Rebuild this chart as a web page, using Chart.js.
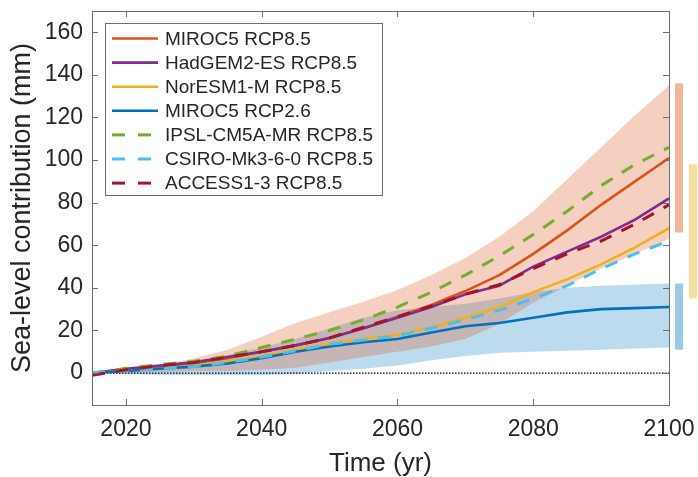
<!DOCTYPE html>
<html>
<head>
<meta charset="utf-8">
<script src="https://cdn.jsdelivr.net/npm/chart.js@4.4.1/dist/chart.umd.min.js"></script>
<style>
  html, body { margin: 0; padding: 0; background: #fff; }
</style>
</head>
<body>
<canvas id="chart" width="698" height="477"></canvas>
<script>
// years sampled every 5 yr
const years = [2015, 2020, 2025, 2030, 2035, 2040, 2045, 2050, 2055, 2060, 2065, 2070, 2075, 2080, 2085, 2090, 2095, 2100];

// sea-level contribution (mm)
const miroc85  = [0, 1.5, 3, 4.5, 7, 10, 13, 16.5, 21, 26.5, 32, 38.5, 46, 56, 67, 79, 90, 101];
const hadgem85 = [0, 2, 3.5, 5, 7.5, 10, 13, 16.5, 21, 26, 31, 37, 41, 50, 57, 64, 72, 82];
const noresm85 = [0, 1, 2, 3.5, 5.5, 8, 11, 14, 16, 18, 21.5, 26, 31, 38, 44, 51, 59, 68];
const miroc26  = [0, 1, 2, 3, 4.5, 7, 10, 12.5, 14.5, 16, 19, 22, 23.5, 26, 28.5, 30, 30.5, 31];
const ipsl85   = [0, 2.2, 4, 5.5, 8, 12, 16, 20, 25, 31, 38, 46, 55, 65, 76, 88, 98, 106];
const csiro85  = [0, 1, 2, 3, 5, 7.5, 10.5, 13.5, 15.5, 17.5, 21, 25, 29.5, 35, 41, 49, 56, 62];
const access85 = [-1, 1.5, 3.5, 5, 7.5, 10, 13, 16.5, 21.5, 26.5, 31.5, 37, 41.5, 49, 56, 62, 70, 79];

// spread of the MIROC5 runs
const rcp85High = [0, 1.5, 3.5, 7, 11, 17, 23.5, 28.5, 33.5, 39, 46, 54, 64, 76, 91, 106, 121, 135];
const rcp85Low  = [0, 0, 0.5, 1, 1, 1.5, 2.5, 5, 7.5, 10, 12.5, 16, 23, 33, 41, 49, 56, 63];
const rcp26High = [0, 2, 3.5, 5.5, 8.5, 12, 16, 21, 26, 29.5, 31, 32.5, 35, 38, 40, 41, 41.5, 42];
const rcp26Low  = [0, -0.5, -1, -1, -1, -1, -0.5, 1, 2, 3.5, 6, 8, 9.5, 10, 10.5, 11, 11.5, 12];

// 2100 ranges shown beside the axes
const rangeLow  = [66, 35, 11];
const rangeHigh = [136, 98, 42];

const zeroYears = [2015, 2100];
const zeroValues = [0, 0];

const xTicks = [2020, 2040, 2060, 2080, 2100];
const yTicks = [0, 20, 40, 60, 80, 100, 120, 140, 160];

const FONT = '"Liberation Sans", Arial, Helvetica, sans-serif';
const TEXT = '#262626';
const AXIS = '#6e6e6e';

function pts(xs, values) {
    return xs.map((x, i) => ({ x: x, y: values[i] }));
}

const lines = [
    { label: 'MIROC5 RCP8.5', values: miroc85, color: '#D95319', dash: [] },
    { label: 'HadGEM2-ES RCP8.5', values: hadgem85, color: '#7E2F8E', dash: [] },
    { label: 'NorESM1-M RCP8.5', values: noresm85, color: '#EDB120', dash: [] },
    { label: 'MIROC5 RCP2.6', values: miroc26, color: '#0072BD', dash: [] },
    { label: 'IPSL-CM5A-MR RCP8.5', values: ipsl85, color: '#77AC30', dash: [13, 11] },
    { label: 'CSIRO-Mk3-6-0 RCP8.5', values: csiro85, color: '#4DBEEE', dash: [13, 11] },
    { label: 'ACCESS1-3 RCP8.5', values: access85, color: '#A2142F', dash: [13, 11] }
];

const datasets = lines.map((s, i) => ({
    label: s.label,
    data: pts(years, s.values),
    borderColor: s.color,
    borderWidth: s.dash.length ? 3 : 2.6,
    borderDash: s.dash,
    fill: false,
    inLegend: true,
    order: 7 - i
}));

datasets.push(
    { label: 'zero', data: pts(zeroYears, zeroValues), borderColor: '#000', borderWidth: 1.2, borderDash: [1.5, 1.5], fill: false, order: 10 },
    { label: 'rcp85 high', data: pts(years, rcp85High), borderWidth: 0, borderColor: 'transparent', backgroundColor: 'rgba(217,83,25,0.27)', fill: '+1', order: 19 },
    { label: 'rcp85 low', data: pts(years, rcp85Low), borderWidth: 0, borderColor: 'transparent', fill: false, order: 19 },
    { label: 'rcp26 high', data: pts(years, rcp26High), borderWidth: 0, borderColor: 'transparent', backgroundColor: 'rgba(0,114,189,0.26)', fill: '+1', order: 20 },
    { label: 'rcp26 low', data: pts(years, rcp26Low), borderWidth: 0, borderColor: 'transparent', fill: false, order: 20 }
);

// box, inward ticks, legend and the 2100 range bars
const decorations = {
    id: 'decorations',
    afterDatasetsDraw(chart) {
        const { ctx, chartArea: a, scales } = chart;
        ctx.save();
        ctx.strokeStyle = AXIS;
        ctx.lineWidth = 1;
        ctx.strokeRect(Math.round(a.left) + 0.5, Math.round(a.top) + 0.5, Math.round(a.width), Math.round(a.height));
        ctx.beginPath();
        xTicks.forEach(v => {
            const px = Math.round(scales.x.getPixelForValue(v)) + 0.5;
            ctx.moveTo(px, a.bottom); ctx.lineTo(px, a.bottom - 6);
            ctx.moveTo(px, a.top); ctx.lineTo(px, a.top + 6);
        });
        yTicks.forEach(v => {
            const py = Math.round(scales.y.getPixelForValue(v)) + 0.5;
            ctx.moveTo(a.left, py); ctx.lineTo(a.left + 6, py);
            ctx.moveTo(a.right, py); ctx.lineTo(a.right - 6, py);
        });
        ctx.stroke();

        // legend
        const lx = a.left + 13, ly = a.top + 12, lw = 277, lh = 172;
        ctx.fillStyle = '#fff';
        ctx.fillRect(lx, ly, lw, lh);
        ctx.strokeStyle = AXIS;
        ctx.strokeRect(Math.round(lx) + 0.5, Math.round(ly) + 0.5, lw, lh);
        ctx.font = '19px ' + FONT;
        ctx.textBaseline = 'middle';
        chart.data.datasets.filter(d => d.inLegend).forEach((d, i) => {
            const cy = ly + 15.5 + i * 24.1;
            ctx.beginPath();
            ctx.strokeStyle = d.borderColor;
            ctx.lineWidth = d.borderWidth;
            ctx.setLineDash(d.borderDash.length ? [13, 13] : []);
            ctx.moveTo(lx + 7, cy);
            ctx.lineTo(lx + 53, cy);
            ctx.stroke();
            ctx.setLineDash([]);
            ctx.fillStyle = TEXT;
            ctx.fillText(d.label, lx + 60, cy + 1);
        });
        ctx.restore();
    },
    afterDraw(chart) {
        const { ctx, chartArea: a, scales } = chart;
        const barColors = ['rgba(217,83,25,0.42)', 'rgba(237,177,32,0.42)', 'rgba(0,114,189,0.38)'];
        const barOffset = [6, 20, 6];
        ctx.save();
        rangeLow.forEach((lo, i) => {
            const top = scales.y.getPixelForValue(rangeHigh[i]);
            const bottom = scales.y.getPixelForValue(lo);
            ctx.fillStyle = barColors[i];
            ctx.fillRect(a.right + barOffset[i], top, 8, bottom - top);
        });
        ctx.restore();
    }
};

new Chart(document.getElementById('chart'), {
    type: 'line',
    data: { datasets: datasets },
    plugins: [decorations],
    options: {
        responsive: false,
        animation: false,
        devicePixelRatio: 1,
        layout: { padding: { top: 11, right: 29, left: 0, bottom: 0 } },
        plugins: {
            legend: { display: false },
            tooltip: { enabled: false }
        },
        elements: {
            point: { radius: 0 },
            line: { tension: 0 }
        },
        scales: {
            x: {
                type: 'linear',
                min: 2015,
                max: 2100,
                afterBuildTicks: s => { s.ticks = xTicks.map(v => ({ value: v })); },
                afterFit: s => { s.height = 72; s.paddingLeft = 0; s.paddingRight = 0; },
                grid: { display: false, drawTicks: false },
                border: { display: false },
                ticks: { font: { family: FONT, size: 23 }, color: TEXT, padding: 11, maxRotation: 0, autoSkip: false, callback: v => String(v) },
                title: { display: true, text: 'Time (yr)', font: { family: FONT, size: 26, lineHeight: 1 }, color: TEXT, padding: { top: 0, bottom: 0 } }
            },
            y: {
                type: 'linear',
                min: -15,
                max: 170,
                afterBuildTicks: s => { s.ticks = yTicks.map(v => ({ value: v })); },
                afterFit: s => { s.width = 92; s.paddingTop = 0; s.paddingBottom = 0; },
                grid: { display: false, drawTicks: false },
                border: { display: false },
                ticks: { font: { family: FONT, size: 23 }, color: TEXT, padding: 9 },
                title: { display: true, text: 'Sea-level contribution (mm)', font: { family: FONT, size: 27 }, color: TEXT, padding: { top: 6, bottom: 0 } }
            }
        }
    }
});
</script>
</body>
</html>
